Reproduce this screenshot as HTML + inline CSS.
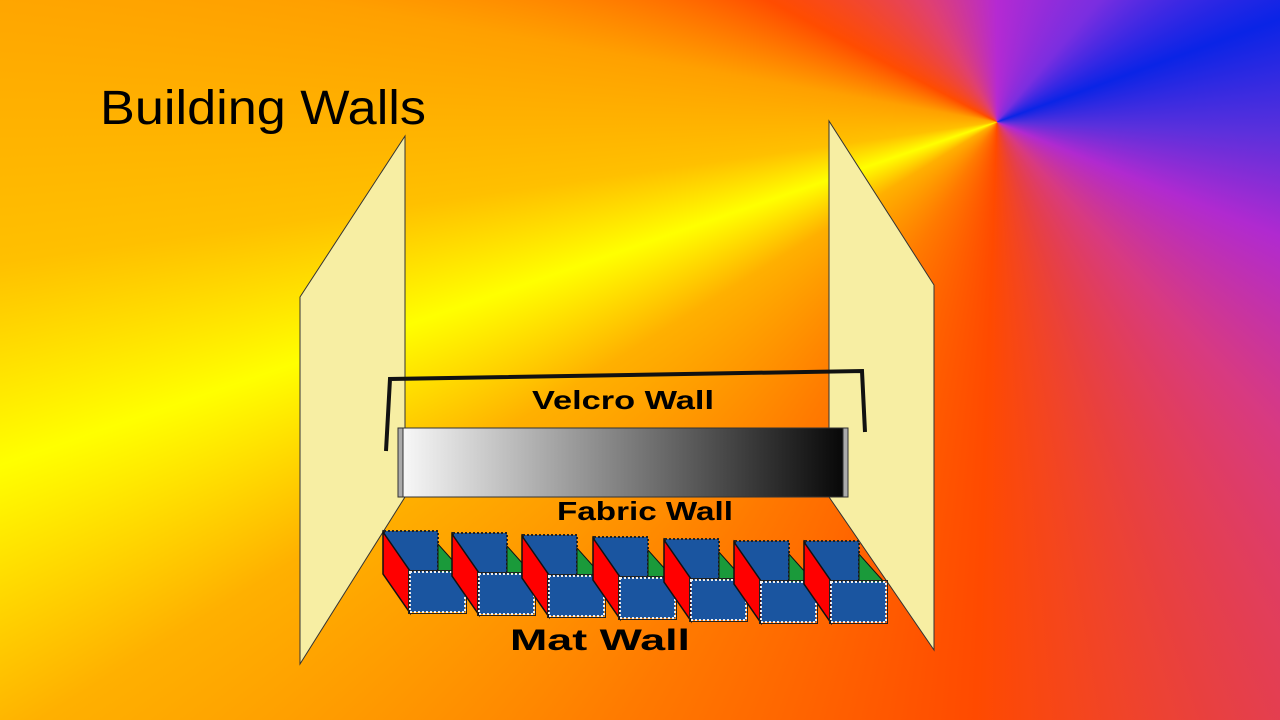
<!DOCTYPE html>
<html><head><meta charset="utf-8"><style>
html,body{margin:0;padding:0;width:1280px;height:720px;overflow:hidden}
.bg{position:absolute;left:0;top:0;width:1280px;height:720px;
background:conic-gradient(from 0deg at 997px 122px,#b52ad2 0deg,#7a2ee0 40deg,#0a24e6 70deg,#5a30dc 92deg,#b02ad0 112deg,#d83a80 138deg,#e84040 160deg,#ff4a00 182deg,#ff7a00 212deg,#ffb000 238deg,#ffff00 251deg,#ffc000 262deg,#ffa000 280deg,#ff4c00 298deg,#e04070 330deg,#b52ad2 360deg)}
svg{position:absolute;left:0;top:0}
</style></head><body>
<div class="bg"></div>
<svg width="1280" height="720" viewBox="0 0 1280 720">
<defs>
<linearGradient id="g" x1="0" x2="1" y1="0" y2="0"><stop offset="0" stop-color="#fafafa"/><stop offset="1" stop-color="#050505"/></linearGradient>
<g id="mat">
<rect x="384" y="531" width="54" height="41" fill="#1a55a0" stroke="#222" stroke-width="2" stroke-dasharray="2 2"/>
<polygon points="438,544 438,572 463,572" fill="#1a9a3a" stroke="#111" stroke-width="1"/>
<polygon points="383,532 410,571 410,613 383,574" fill="#ff0000" stroke="#111" stroke-width="1.5"/>
<rect x="410" y="572" width="55" height="40" fill="#1a55a0" stroke="#eee" stroke-width="2" stroke-dasharray="2 2"/>
<rect x="408.5" y="570.5" width="58" height="43" fill="none" stroke="#222" stroke-width="1"/>
</g>
</defs>
<text x="100" y="124" font-family="Liberation Sans, sans-serif" font-size="48" textLength="326" lengthAdjust="spacingAndGlyphs" fill="#000">Building Walls</text>
<polygon points="300,297 405,136 405,497 300,664" fill="#f7eea3" stroke="#333" stroke-width="1"/>
<polygon points="829,121 934,285 934,650 829,497" fill="#f7eea3" stroke="#333" stroke-width="1"/>
<polyline points="386,451 390,379 862,371 865,432" fill="none" stroke="#111" stroke-width="4"/>
<rect x="398" y="428" width="450" height="69" fill="url(#g)" stroke="#333" stroke-width="1"/>
<rect x="398" y="428" width="5" height="69" fill="#aaa" stroke="#333" stroke-width="1"/>
<rect x="843" y="428" width="5" height="69" fill="#aaa" stroke="#333" stroke-width="1"/>
<text x="623" y="409" text-anchor="middle" font-family="Liberation Sans, sans-serif" font-weight="bold" font-size="26" fill="#000" textLength="182" lengthAdjust="spacingAndGlyphs">Velcro Wall</text>
<text x="645" y="520" text-anchor="middle" font-family="Liberation Sans, sans-serif" font-weight="bold" font-size="26" fill="#000" textLength="176" lengthAdjust="spacingAndGlyphs">Fabric Wall</text>
<use href="#mat" transform="translate(0,0)"/>
<use href="#mat" transform="translate(69,2)"/>
<use href="#mat" transform="translate(139,4)"/>
<use href="#mat" transform="translate(210,6)"/>
<use href="#mat" transform="translate(281,8)"/>
<use href="#mat" transform="translate(351,10)"/>
<use href="#mat" transform="translate(421,10)"/>
<text x="600" y="650" text-anchor="middle" font-family="Liberation Sans, sans-serif" font-weight="bold" font-size="30" fill="#000" textLength="180" lengthAdjust="spacingAndGlyphs">Mat Wall</text>
</svg>
</body></html>
